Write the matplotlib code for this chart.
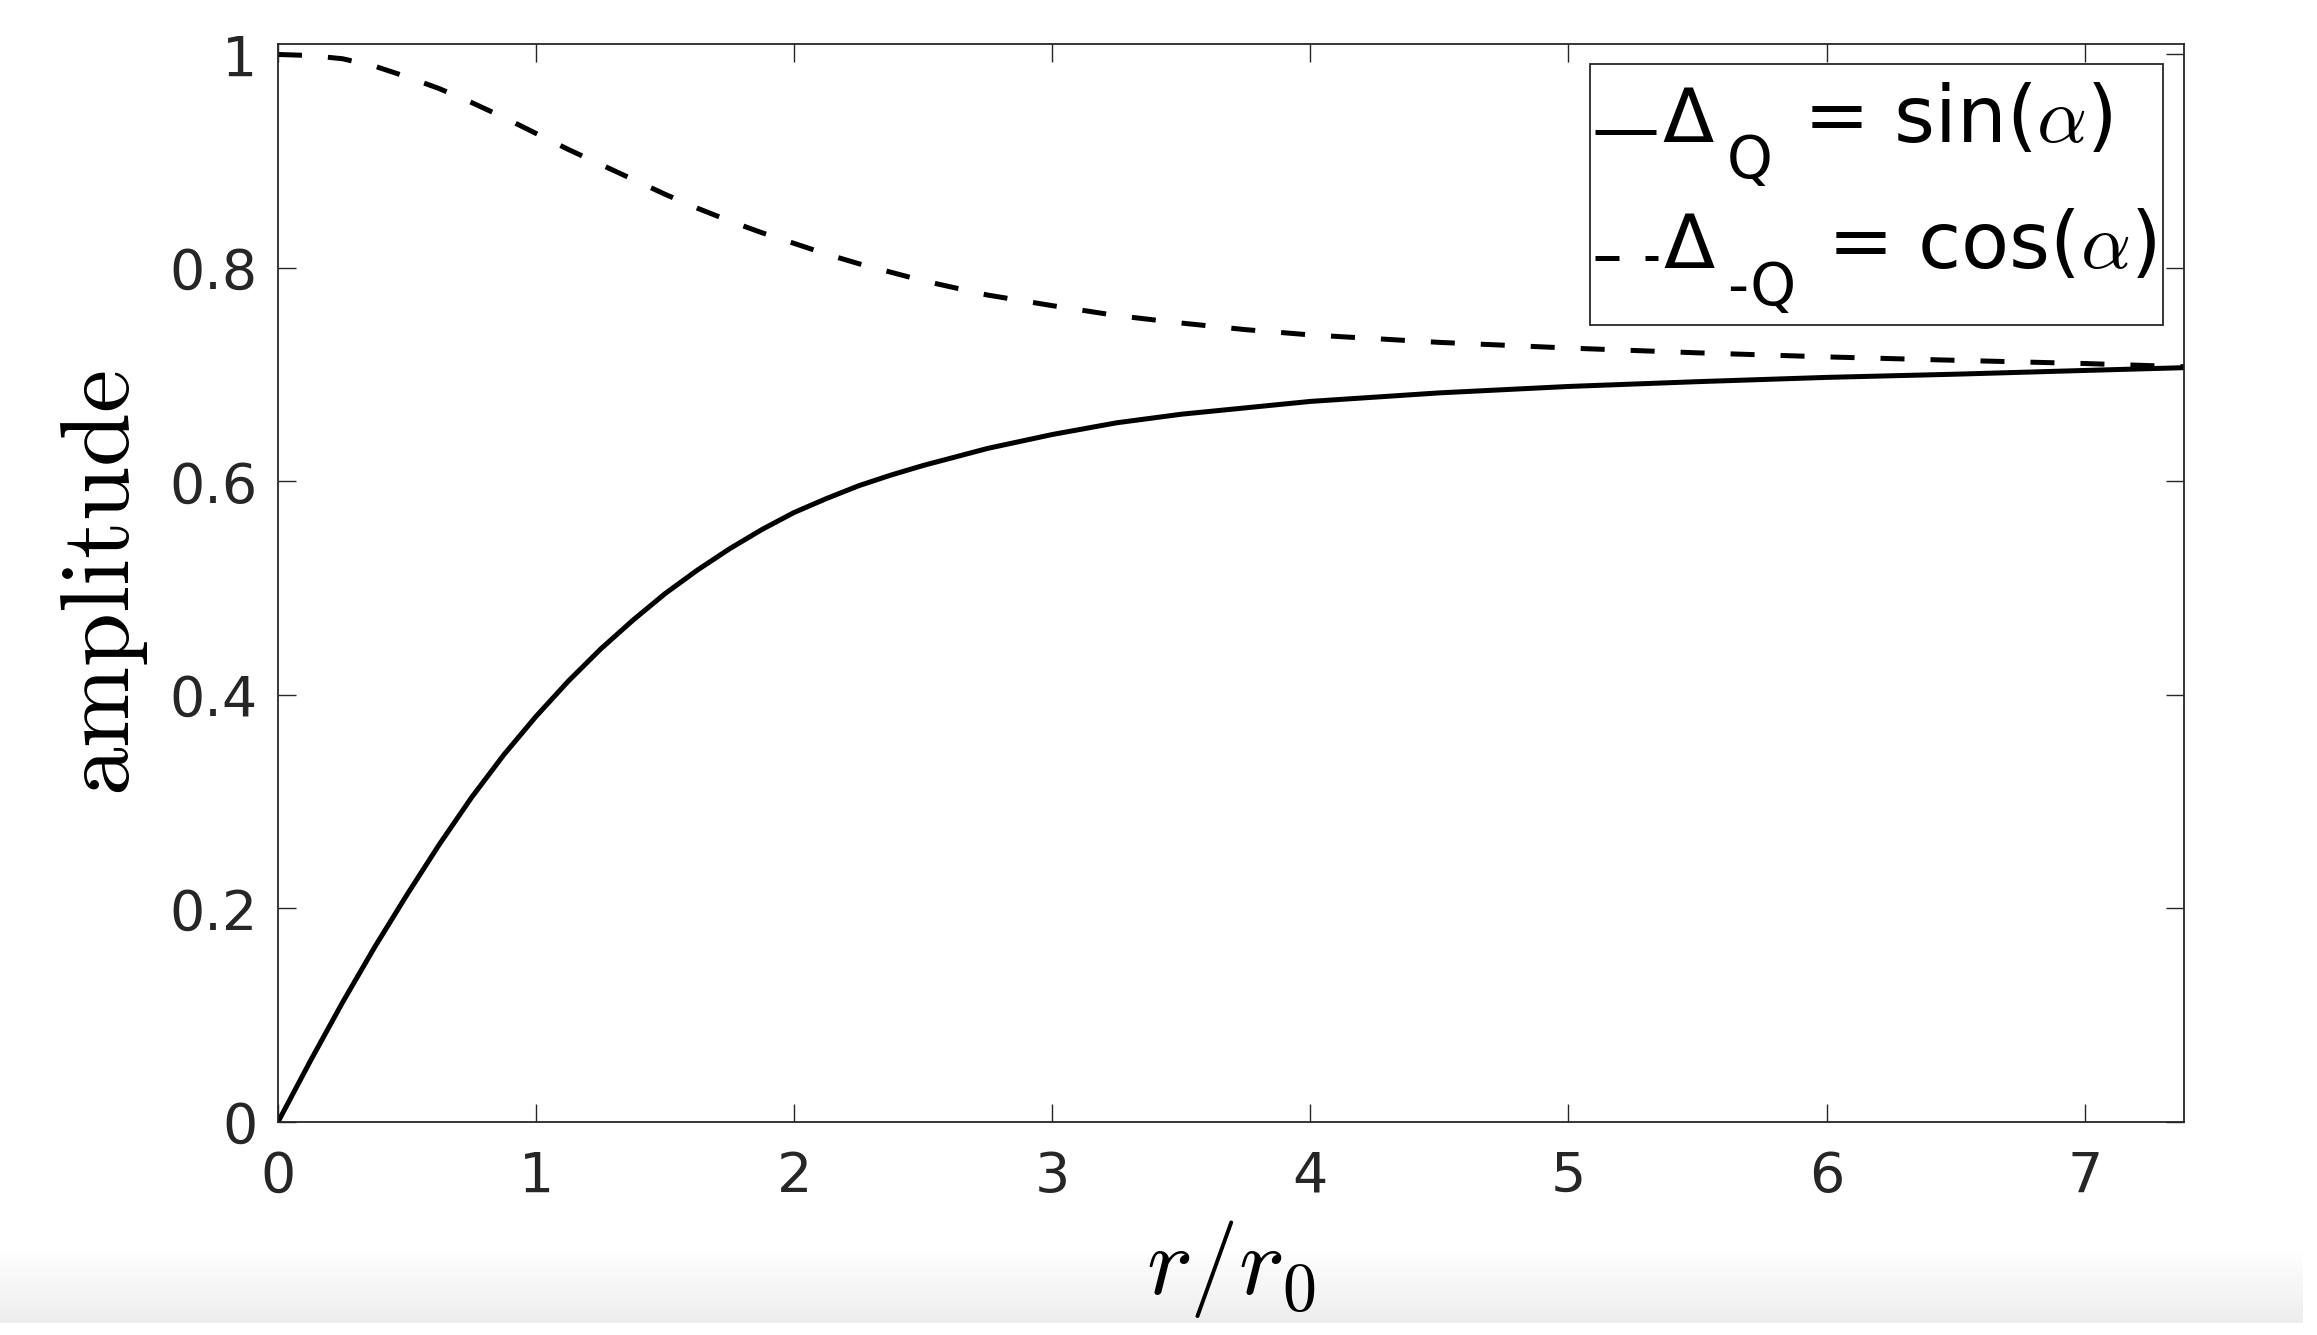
import numpy as np
import matplotlib
matplotlib.use("Agg")
import matplotlib.pyplot as plt
from matplotlib.lines import Line2D
from matplotlib.patches import Rectangle
from matplotlib.colors import LinearSegmentedColormap

plt.rcParams['font.family'] = ['DejaVu Sans']
plt.rcParams['mathtext.fontset'] = 'cm'

# ---- data ----
r = [0.0, 0.125, 0.25, 0.375, 0.5, 0.625, 0.75, 0.875, 1.0, 1.125, 1.25,
     1.375, 1.5, 1.625, 1.75, 1.875, 2.0, 2.125, 2.25, 2.375, 2.5, 2.75,
     3.0, 3.25, 3.5, 3.75, 4.0, 4.5, 5.0, 5.5, 6.0, 6.5, 7.0, 7.385]
delta_q = [0.0, 0.057, 0.112, 0.164, 0.213, 0.260, 0.304, 0.344, 0.380,
           0.413, 0.443, 0.470, 0.495, 0.517, 0.537, 0.555, 0.571, 0.584,
           0.596, 0.606, 0.615, 0.631, 0.644, 0.655, 0.663, 0.669, 0.675,
           0.683, 0.689, 0.6935, 0.6975, 0.7005, 0.704, 0.7066]
delta_mq = [1.0, 0.999, 0.996, 0.989, 0.979, 0.968, 0.955, 0.941, 0.926,
            0.911, 0.897, 0.883, 0.869, 0.856, 0.844, 0.833, 0.823, 0.813,
            0.804, 0.796, 0.788, 0.7746, 0.7647, 0.7554, 0.7484, 0.7422,
            0.7373, 0.7303, 0.725, 0.7205, 0.7167, 0.7135, 0.7105, 0.7075]
xticks = [0, 1, 2, 3, 4, 5, 6, 7]
yticks = [0, 0.2, 0.4, 0.6, 0.8, 1]
ytick_labels = ['0', '0.2', '0.4', '0.6', '0.8', '1']

W, H = 2317, 1335
fig = plt.figure(figsize=(W / 100, H / 100), dpi=100)
fig.patch.set_facecolor('white')

def fx(px):
    return px / W

def fy(py):
    return 1 - py / H

# light gray gradient band at the bottom (screenshot artefact)
ax_bg = fig.add_axes([0, fy(1323), fx(2303), (1323 - 1250) / H], zorder=0)
cmap = LinearSegmentedColormap.from_list('g', ['#ffffff', '#ededed'])
ax_bg.imshow(np.linspace(0, 1, 200).reshape(-1, 1), cmap=cmap, aspect='auto',
             origin='upper', extent=[0, 1, 0, 1])
ax_bg.set_axis_off()

ax = fig.add_axes([fx(278), fy(1122), (2184 - 278) / W, (1122 - 44) / H], zorder=1)
ax.plot(r, delta_q, color='black', lw=3.6, solid_capstyle='butt',
        solid_joinstyle='round')
ax.plot(r, delta_mq, color='black', lw=3.6, linestyle=(0, (4.8, 5.2)),
        dash_capstyle='butt')

ax.set_xlim(0, 7.385)
ax.set_ylim(0, 1.0098)
ax.set_xticks(xticks)
ax.set_xticklabels([str(t) for t in xticks])
ax.set_yticks(yticks)
ax.set_yticklabels(ytick_labels)

edge = '#262626'
for s in ax.spines.values():
    s.set_color(edge)
    s.set_linewidth(1.3)
ax.tick_params(axis='both', which='major', direction='in', length=13, width=1.0,
               color=edge, labelcolor=edge, labelsize=40,
               top=True, right=True)
ax.tick_params(axis='x', pad=20)
ax.tick_params(axis='y', pad=15)

ax.set_xlabel(r'$r/r_0$', fontsize=70)
ax.xaxis.set_label_coords(0.5, -0.089)
ax.set_ylabel(r'$\mathrm{amplitude}$', fontsize=70)
ax.yaxis.set_label_coords(-0.067, 0.5)

# ---- legend (drawn by hand to reproduce the MATLAB TeX layout) ----
fig.add_artist(Rectangle((fx(1590), fy(325)), (2163 - 1590) / W, (325 - 64) / H,
                         transform=fig.transFigure, facecolor='white',
                         edgecolor=edge, linewidth=1.3, zorder=5))
fig.add_artist(Line2D([fx(1595), fx(1656)], [fy(132), fy(132)],
                      transform=fig.transFigure, color='black', lw=3.6,
                      solid_capstyle='butt', zorder=6))
fig.add_artist(Line2D([fx(1595), fx(1658)], [fy(258), fy(258)],
                      transform=fig.transFigure, color='black', lw=3.6,
                      linestyle=(0, (4.8, 5.2)), dash_capstyle='butt', zorder=6))

txt_kw = dict(color='black', va='baseline', ha='left', zorder=7)
fig.text(fx(1662), fy(142), 'Δ', fontsize=54, **txt_kw)
fig.text(fx(1727), fy(178), 'Q', fontsize=42, **txt_kw)
fig.text(fx(1803), fy(142), r'= sin($\alpha$)', fontsize=56.5, **txt_kw)

fig.text(fx(1663), fy(268), 'Δ', fontsize=54, **txt_kw)
fig.text(fx(1727), fy(305), '-Q', fontsize=42, **txt_kw)
fig.text(fx(1827), fy(268), r'= cos($\alpha$)', fontsize=56.5, **txt_kw)

fig.savefig('out.png', dpi=100, facecolor='white')
